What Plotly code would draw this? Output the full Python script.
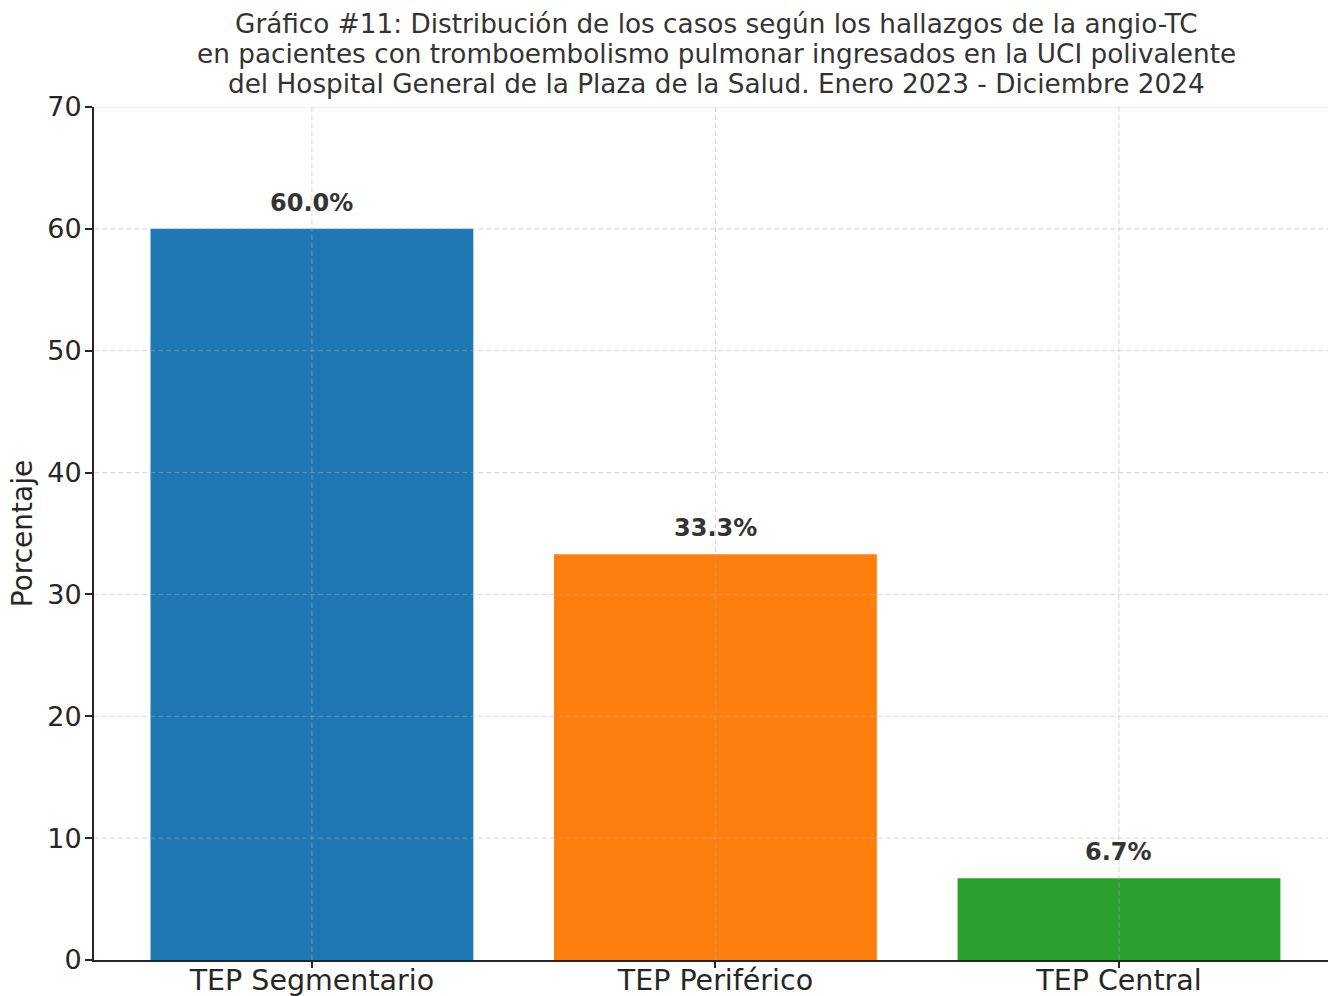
import plotly.graph_objects as go

categories = ["TEP Segmentario", "TEP Periférico", "TEP Central"]
values = [60.0, 33.3, 6.7]
colors = ["#1f77b4", "#ff7f0e", "#2ca02c"]
y_ticks = [0, 10, 20, 30, 40, 50, 60, 70]
title_lines = [
    "Gráfico #11: Distribución de los casos según los hallazgos de la angio-TC",
    "en pacientes con tromboembolismo pulmonar ingresados en la UCI polivalente",
    "del Hospital General de la Plaza de la Salud. Enero 2023 - Diciembre 2024",
]

FONT = "DejaVu Sans"
grid_color = "rgba(176,176,176,0.5)"

fig = go.Figure()
fig.add_trace(go.Bar(
    x=categories, y=values, marker=dict(color=colors, line=dict(width=0)),
    width=0.8, showlegend=False, hoverinfo="x+y",
))

shapes = []
for c in categories:
    shapes.append(dict(type="line", xref="x", yref="paper", x0=c, x1=c, y0=0, y1=1,
                       line=dict(color=grid_color, width=1, dash="5px,3px"), layer="above"))
for t in y_ticks[1:]:
    shapes.append(dict(type="line", xref="paper", yref="y", x0=0, x1=1, y0=t, y1=t,
                       line=dict(color=grid_color, width=1, dash="5px,3px"), layer="above"))

annotations = []
for c, v in zip(categories, values):
    annotations.append(dict(x=c, y=v, xref="x", yref="y", text=f"<b>{v:.1f}%</b>",
                            showarrow=False, yanchor="bottom", yshift=10,
                            font=dict(family=FONT, size=24, color="#333333")))

# title as three stacked lines (tight line spacing as in the reference)
for i, line in enumerate(title_lines):
    annotations.append(dict(x=0.5, y=1, xref="paper", yref="paper", text=line,
                            showarrow=False, xanchor="center", yanchor="middle",
                            yshift=83 - 30 * i, xshift=5,
                            font=dict(family=FONT, size=26.3, color="#333333")))

fig.update_layout(
    width=1328, height=996,
    margin=dict(l=94, r=0, t=107, b=36),
    paper_bgcolor="white", plot_bgcolor="white",
    font=dict(family=FONT, color="#262626"),
    shapes=shapes, annotations=annotations, bargap=0.2,
)
fig.update_xaxes(
    range=[-0.54, 2.518], showgrid=False, showline=True, linecolor="#262626", linewidth=2,
    ticks="outside", ticklen=6, tickwidth=2, tickcolor="#262626",
    tickfont=dict(family=FONT, size=28.5, color="#262626"), zeroline=False,
    automargin=False, ticklabelstandoff=-12,
)
fig.update_yaxes(
    range=[0, 70], tickvals=y_ticks, showgrid=False, showline=True, linecolor="#262626",
    linewidth=2, ticks="outside", ticklen=7, tickwidth=2, tickcolor="#262626",
    tickfont=dict(family=FONT, size=27, color="#262626"), zeroline=False,
    title=dict(text="Porcentaje", font=dict(family=FONT, size=28, color="#262626"), standoff=6),
    automargin=False, ticklabelstandoff=-2,
)

fig.write_html("out.html", config={"displayModeBar": False},
               post_script="document.body.style.margin='0px';")
